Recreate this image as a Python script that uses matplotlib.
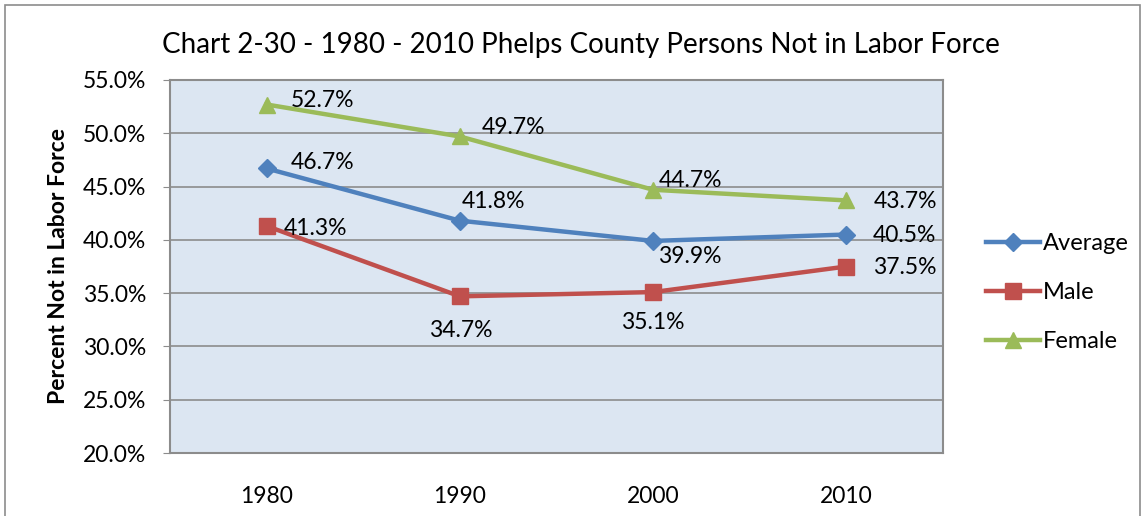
import matplotlib
matplotlib.use("Agg")
import matplotlib.pyplot as plt
from matplotlib.patches import Rectangle

years = ["1980", "1990", "2000", "2010"]
average = [46.7, 41.8, 39.9, 40.5]
male = [41.3, 34.7, 35.1, 37.5]
female = [52.7, 49.7, 44.7, 43.7]
yticks = [20, 25, 30, 35, 40, 45, 50, 55]

plt.rcParams['font.family'] = ['Lato', 'DejaVu Sans']

fig = plt.figure(figsize=(11.47, 5.16), dpi=100)
fig.patches.append(Rectangle((5/1147, -0.05), 1135/1147, 1.05 - 5/516, transform=fig.transFigure,
                             fill=False, edgecolor='#8c8c8c', linewidth=1.2))
ax = fig.add_axes([170/1147, 63/516, 773/1147, 373/516])
ax.set_facecolor('#DCE6F2')
x = [i + 0.5 for i in range(len(years))]

series = [
    ("Average", average, '#4F81BD', 'D', 9),
    ("Male", male, '#C0504D', 's', 11),
    ("Female", female, '#9BBB59', '^', 11),
]
for name, vals, col, mk, ms in series:
    ax.plot(x, vals, color=col, linewidth=3.2, marker=mk, markersize=ms, label=name, zorder=3)

fs = 16.5
offsets = {
    "Average": [(24, 6, 'left'), (34, 19, 'center'), (37, -16, 'center'), (26, -1, 'left')],
    "Male": [(17, -2, 'left'), (1, -34, 'center'), (0, -30, 'center'), (27, -1, 'left')],
    "Female": [(24, 4, 'left'), (22, 9, 'left'), (6, 9, 'left'), (27, -1, 'left')],
}
for name, vals, col, mk, ms in series:
    for xi, v, (dx, dy, ha) in zip(x, vals, offsets[name]):
        ax.annotate(f"{v:.1f}%", (xi, v), xytext=(dx, dy), textcoords='offset pixels',
                    ha=ha, va='center', fontsize=fs, color='black', zorder=4)

ax.set_xlim(0, 4)
ax.set_ylim(20, 55)
ax.set_yticks(yticks)
ax.set_yticklabels([f"{t:.1f}%" for t in yticks])
ax.set_xticks(x)
ax.set_xticklabels(years)
ax.tick_params(axis='y', length=5, color='#8c8c8c', labelsize=fs, pad=12)
ax.tick_params(axis='x', length=0, labelsize=fs, pad=24)
ax.grid(axis='y', color='#8c8c8c', linewidth=1.2, zorder=1)
ax.set_axisbelow(True)
for s in ax.spines.values():
    s.set_color('#8c8c8c')
    s.set_linewidth(1.5)

ax.set_ylabel("Percent Not in Labor Force", fontsize=16.5, fontweight='bold', labelpad=10)
fig.text(581/1147, 1 - 45/516, "Chart 2-30 - 1980 - 2010 Phelps County Persons Not in Labor Force",
         ha='center', va='center', fontsize=20)

leg = ax.legend(loc='center left', bbox_to_anchor=(1.028, 0.43), frameon=False, fontsize=17,
                handlelength=2.3, labelspacing=1.18, handletextpad=0.1)

fig.savefig("out.png", dpi=100)
